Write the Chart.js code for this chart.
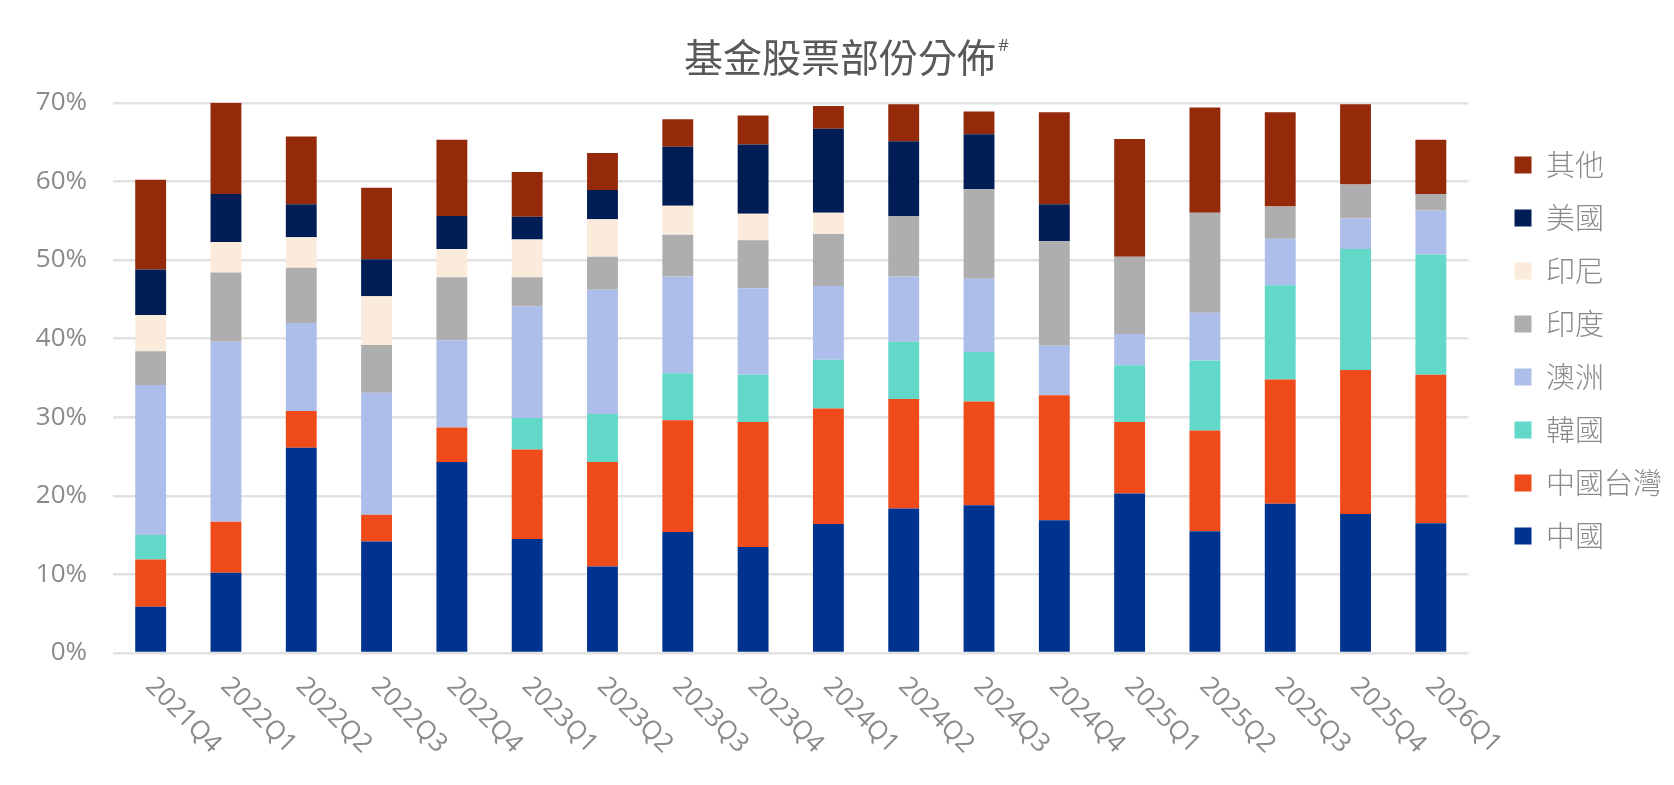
<!DOCTYPE html>
<html lang="zh-Hant">
<head>
<meta charset="utf-8">
<title>基金股票部份分佈</title>
<script src="https://cdn.jsdelivr.net/npm/chart.js@4.4.1/dist/chart.umd.min.js"></script>
<style>
    html, body { margin: 0; padding: 0; background: #ffffff; }
    #wrap { position: relative; width: 1674px; height: 785px; }
</style>
</head>
<body>
<div id="wrap"><canvas id="allocationChart"></canvas></div>
<script>
const quarters = ['2021Q4', '2022Q1', '2022Q2', '2022Q3', '2022Q4', '2023Q1', '2023Q2', '2023Q3', '2023Q4',
    '2024Q1', '2024Q2', '2024Q3', '2024Q4', '2025Q1', '2025Q2', '2025Q3', '2025Q4', '2026Q1'];

// percentages (bottom of the stack first)
const china = [5.9, 10.2, 26.1, 14.2, 24.3, 14.5, 11.0, 15.4, 13.5, 16.4, 18.4, 18.8, 16.9, 20.3, 15.5, 19.0, 17.7, 16.5];
const taiwan = [6.0, 6.5, 4.7, 3.4, 4.4, 11.4, 13.3, 14.2, 15.9, 14.7, 13.9, 13.2, 15.9, 9.1, 12.8, 15.8, 18.3, 18.9];
const korea = [3.1, 0, 0, 0, 0, 4.0, 6.1, 6.0, 6.0, 6.2, 7.3, 6.3, 0, 7.2, 8.9, 12.0, 15.4, 15.3];
const australia = [19.1, 22.9, 11.2, 15.5, 11.1, 14.2, 15.8, 12.3, 11.0, 9.4, 8.3, 9.3, 6.3, 4.0, 6.1, 5.9, 3.9, 5.6];
const india = [4.3, 8.8, 7.0, 6.1, 8.0, 3.7, 4.2, 5.3, 6.1, 6.6, 7.7, 11.4, 13.3, 9.8, 12.7, 4.1, 4.3, 2.1];
const indonesia = [4.6, 3.9, 3.9, 6.2, 3.6, 4.8, 4.8, 3.7, 3.4, 2.7, 0, 0, 0, 0, 0, 0, 0, 0];
const usa = [5.8, 6.1, 4.2, 4.7, 4.2, 2.9, 3.7, 7.5, 8.8, 10.7, 9.5, 7.0, 4.7, 0, 0, 0, 0, 0];
const others = [11.4, 11.6, 8.6, 9.1, 9.7, 5.7, 4.7, 3.5, 3.7, 2.9, 4.7, 2.9, 11.7, 15.0, 13.4, 12.0, 10.2, 6.9];

const yTicks = [0, 10, 20, 30, 40, 50, 60, 70];

const GREY = '#8a8a8a';
const LATIN = '"Open Sans", "Noto Sans", sans-serif';
const CJK = '"Noto Sans CJK TC", "Noto Sans CJK SC", sans-serif';

// x labels run down to the right, which the axis itself can't do
const slantedLabels = {
    id: 'slantedLabels',
    afterDraw(chart) {
        const ctx = chart.ctx;
        const xScale = chart.scales.x;
        ctx.save();
        ctx.fillStyle = GREY;
        ctx.font = '26px ' + LATIN;
        ctx.textAlign = 'left';
        ctx.textBaseline = 'middle';
        quarters.forEach(function (label, i) {
            ctx.save();
            ctx.translate(xScale.getPixelForValue(i) - 1, chart.chartArea.bottom + 29);
            ctx.rotate(Math.PI / 4);
            ctx.fillText(label, 0, 0);
            ctx.restore();
        });
        ctx.restore();
    },
};

// the little # after the title
const titleMark = {
    id: 'titleMark',
    afterDraw(chart) {
        const ctx = chart.ctx;
        const block = chart.titleBlock;
        const opts = chart.options.plugins.title;
        ctx.save();
        ctx.font = '39px ' + CJK;
        const w = ctx.measureText(opts.text).width;
        const cx = block.left + block.width / 2;
        ctx.font = '17px ' + LATIN;
        ctx.fillStyle = '#595959';
        ctx.textAlign = 'left';
        ctx.textBaseline = 'middle';
        ctx.fillText('#', cx + w / 2 + 2, 46);
        ctx.restore();
    },
};

function renderAllocationChart() {
    const canvas = document.getElementById('allocationChart');

    new Chart(canvas, {
        type: 'bar',
        data: {
            labels: quarters,
            datasets: [
                { label: '中國', data: china, backgroundColor: '#00338f' },
                { label: '中國台灣', data: taiwan, backgroundColor: '#ef4b1a' },
                { label: '韓國', data: korea, backgroundColor: '#62d8c8' },
                { label: '澳洲', data: australia, backgroundColor: '#aebeea' },
                { label: '印度', data: india, backgroundColor: '#aeaeae' },
                { label: '印尼', data: indonesia, backgroundColor: '#fbebdc' },
                { label: '美國', data: usa, backgroundColor: '#001e55' },
                { label: '其他', data: others, backgroundColor: '#952a0a' },
            ],
        },
        options: {
            responsive: true,
            maintainAspectRatio: false,
            animation: false,
            datasets: {
                bar: {
                    categoryPercentage: 0.41,
                    barPercentage: 1,
                    borderWidth: 0,
                },
            },
            layout: {
                padding: { left: 8, right: 2, top: 0, bottom: 84 },
            },
            plugins: {
                title: {
                    display: true,
                    text: '基金股票部份分佈',
                    color: '#595959',
                    font: { family: CJK, size: 39, weight: 'normal', lineHeight: 1.2 },
                    padding: { top: 34, bottom: 22 },
                },
                legend: {
                    position: 'right',
                    align: 'center',
                    reverse: true,
                    labels: {
                        color: GREY,
                        boxWidth: 17,
                        boxHeight: 17,
                        padding: 24,
                        font: { family: CJK, size: 29, weight: 300 },
                    },
                },
                tooltip: {
                    callbacks: {
                        label: function (context) {
                            return context.dataset.label + ': ' + context.raw + '%';
                        },
                    },
                },
            },
            scales: {
                x: {
                    stacked: true,
                    grid: { display: false },
                    border: { display: false },
                    ticks: { display: false },
                    afterFit: function (scale) {
                        scale.height = 48;
                    },
                },
                y: {
                    stacked: true,
                    min: yTicks[0],
                    max: yTicks[yTicks.length - 1],
                    afterBuildTicks: function (scale) {
                        scale.ticks = yTicks.map(function (v) { return { value: v }; });
                    },
                    grid: { color: '#e2e2e2', lineWidth: 2.5, drawTicks: false },
                    border: { display: false },
                    ticks: {
                        color: GREY,
                        padding: 26,
                        font: { family: LATIN, size: 26 },
                        callback: function (value) {
                            return value + '%';
                        },
                    },
                    afterFit: function (scale) {
                        scale.width = 105;
                    },
                },
                gap: {
                    type: 'linear',
                    position: 'right',
                    grid: { display: false },
                    border: { display: false },
                    ticks: { display: false },
                    afterFit: function (scale) {
                        scale.width = 22;
                    },
                },
            },
        },
        plugins: [slantedLabels, titleMark],
    });
}

document.addEventListener('DOMContentLoaded', function () {
    renderAllocationChart();
});
</script>
</body>
</html>
